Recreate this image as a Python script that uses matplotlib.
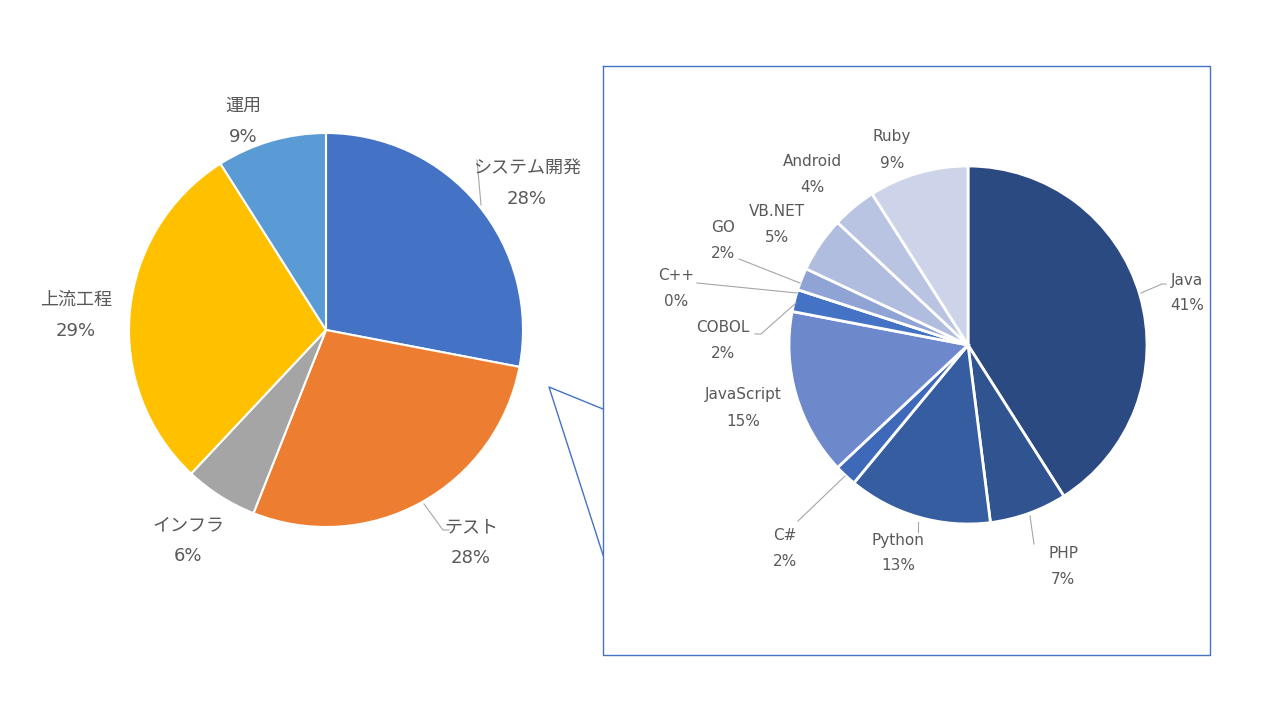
import matplotlib.pyplot as plt

plt.rcParams['font.family'] = ['DejaVu Sans', 'Noto Sans CJK JP']

# main pie
main_labels = ['システム開発', 'テスト', 'インフラ', '上流工程', '運用']
main_values = [28, 28, 6, 29, 9]
main_colors = ['#4472C4', '#ED7D31', '#A5A5A5', '#FFC000', '#5B9BD5']

# breakdown pie (languages)
lang_labels = ['Java', 'PHP', 'Python', 'C#', 'JavaScript', 'COBOL', 'C++',
               'GO', 'VB.NET', 'Android', 'Ruby']
lang_values = [41, 7, 13, 2, 15, 2, 0, 2, 5, 4, 9]
lang_colors = ['#2C4A82', '#30548F', '#355DA0', '#3D69B8', '#6D89CC', '#4472C4',
               '#7F97D0', '#8FA3D5', '#B1BDDF', '#B9C4E2', '#CDD3E9']

H = 720
TXT = '#595959'
LINE = '#A6A6A6'


def Y(py):
    return H - py


fig = plt.figure(figsize=(12.8, 7.2), dpi=100)
ax = fig.add_axes([0, 0, 1, 1])

ax.pie(main_values, colors=main_colors, startangle=90, counterclock=False,
       center=(326, Y(330)), radius=197,
       wedgeprops=dict(edgecolor='white', linewidth=1.5))
ax.pie(lang_values, colors=lang_colors, startangle=90, counterclock=False,
       center=(968, Y(345)), radius=179,
       wedgeprops=dict(edgecolor='white', linewidth=2))

ax.set_xlim(0, 1280)
ax.set_ylim(0, H)
ax.set_aspect('auto')
ax.axis('off')

# main pie labels: (x, y of name line)
main_pos = [(527, 168), (471, 527), (188, 525), (76, 300), (243, 106)]
for lab, val, (x, y) in zip(main_labels, main_values, main_pos):
    ax.text(x, Y(y), lab, ha='center', va='center', fontsize=13, color=TXT)
    ax.text(x, Y(y + 31), f'{val}%', ha='center', va='center', fontsize=13, color=TXT)

ax.plot([477, 481], [Y(160), Y(205)], color=LINE, lw=0.8)
ax.plot([424, 443, 449], [Y(504), Y(530), Y(530)], color=LINE, lw=0.8)

lang_pos = [(1187, 280), (1063, 553), (898, 540), (785, 535), (743, 395),
            (723, 328), (676, 276), (723, 227), (777, 212), (812, 161), (892, 137)]
for lab, val, (x, y) in zip(lang_labels, lang_values, lang_pos):
    ax.text(x, Y(y), lab, ha='center', va='center', fontsize=11, color=TXT)
    ax.text(x, Y(y + 26), f'{val}%', ha='center', va='center', fontsize=11, color=TXT)

leaders = [
    ([1141, 1162, 1166], [293, 284, 284]),
    ([1030, 1034], [516, 544]),
    ([918, 918], [522, 532]),
    ([845, 798], [476, 521]),
    ([755, 761, 796], [334, 334, 303]),
    ([697, 797], [283, 293]),
    ([739, 800], [259, 283]),
]
for xs, ys in leaders:
    ax.plot(xs, [Y(v) for v in ys], color=LINE, lw=0.8)

# zoom box and connectors
ax.plot([603, 1210, 1210, 603, 603], [Y(66), Y(66), Y(655), Y(655), Y(66)],
        color='#4472C4', lw=1)
ax.plot([603, 549, 603], [Y(409), Y(387), Y(555)], color='#4472C4', lw=1)

fig.savefig('out.png', dpi=100, facecolor='white')
